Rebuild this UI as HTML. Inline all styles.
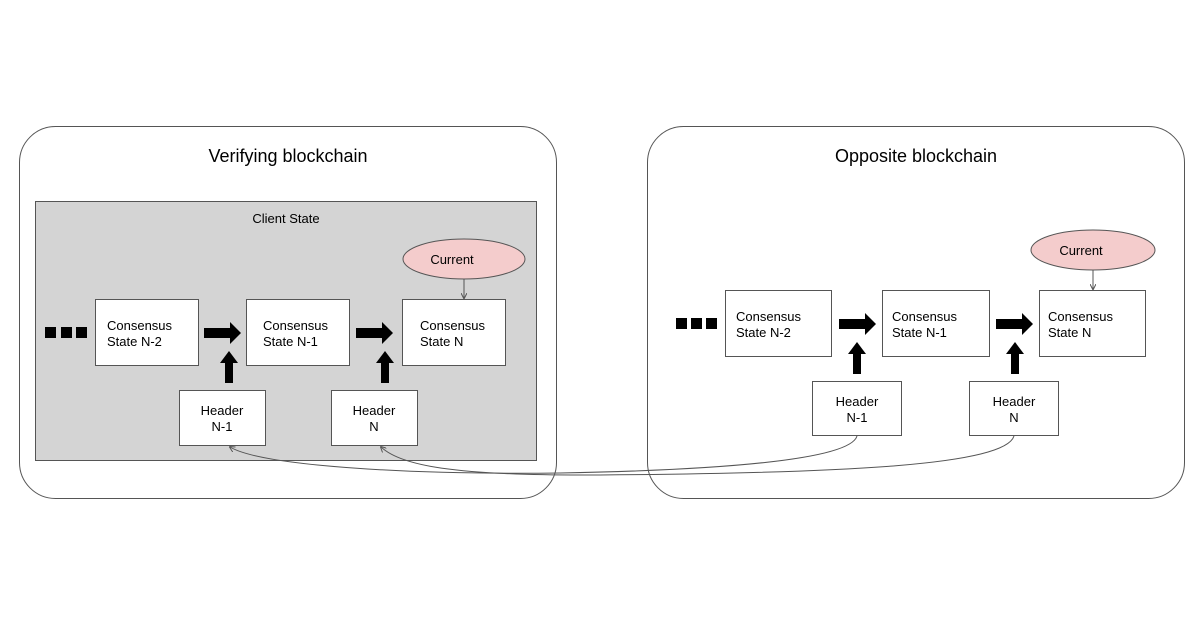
<!DOCTYPE html>
<html><head><style>body{margin:0;background:#fff}svg{display:block}text{font-family:"Liberation Sans",Arial,sans-serif;fill:#000}</style></head><body>
<svg width="1200" height="630" viewBox="0 0 1200 630">
<defs>
<g id="ra"><path d="M0,-5 H26 V-11 L37,0 L26,11 V5 H0 Z" fill="#000"/></g>
<g id="ua"><path d="M-4,0 V-20 H-9 L0,-32 L9,-20 H4 V0 Z" fill="#000"/></g>
<marker id="m" markerWidth="6" markerHeight="6" refX="5" refY="3" orient="auto"><path d="M0,0 L6,3 L0,6" fill="none" stroke="#555" stroke-width="1"/></marker>
</defs>
<rect x="19.5" y="126.5" width="537" height="372" rx="36" fill="#fff" stroke="#555"/>
<rect x="647.5" y="126.5" width="537" height="372" rx="36" fill="#fff" stroke="#555"/>
<text x="288" y="162" font-size="18" text-anchor="middle">Verifying blockchain</text>
<text x="916" y="162" font-size="18" text-anchor="middle">Opposite blockchain</text>
<rect x="35.5" y="201.5" width="501" height="259" fill="#d4d4d4" stroke="#555"/>
<text x="286" y="223" font-size="13" text-anchor="middle">Client State</text>
<g font-size="13">
<!-- left -->
<rect x="45" y="327" width="11" height="11"/><rect x="61" y="327" width="11" height="11"/><rect x="76" y="327" width="11" height="11"/>
<rect x="95.5" y="299.5" width="103" height="66" fill="#fff" stroke="#555"/>
<text x="107" y="330">Consensus</text><text x="107" y="346">State N-2</text>
<rect x="246.5" y="299.5" width="103" height="66" fill="#fff" stroke="#555"/>
<text x="263" y="330">Consensus</text><text x="263" y="346">State N-1</text>
<rect x="402.5" y="299.5" width="103" height="66" fill="#fff" stroke="#555"/>
<text x="420" y="330">Consensus</text><text x="420" y="346">State N</text>
<use href="#ra" x="204" y="333"/><use href="#ra" x="356" y="333"/>
<use href="#ua" x="229" y="383"/><use href="#ua" x="385" y="383"/>
<rect x="179.5" y="390.5" width="86" height="55" fill="#fff" stroke="#555"/>
<text x="222" y="415" text-anchor="middle">Header</text><text x="222" y="431" text-anchor="middle">N-1</text>
<rect x="331.5" y="390.5" width="86" height="55" fill="#fff" stroke="#555"/>
<text x="374" y="415" text-anchor="middle">Header</text><text x="374" y="431" text-anchor="middle">N</text>
<ellipse cx="464" cy="259" rx="61" ry="20" fill="#f4cccc" stroke="#555"/>
<text x="452" y="264" text-anchor="middle">Current</text>
<line x1="464" y1="279" x2="464" y2="298" stroke="#555" marker-end="url(#m)"/>
<!-- right -->
<rect x="676" y="318" width="11" height="11"/><rect x="691" y="318" width="11" height="11"/><rect x="706" y="318" width="11" height="11"/>
<rect x="725.5" y="290.5" width="106" height="66" fill="#fff" stroke="#555"/>
<text x="736" y="321">Consensus</text><text x="736" y="337">State N-2</text>
<rect x="882.5" y="290.5" width="107" height="66" fill="#fff" stroke="#555"/>
<text x="892" y="321">Consensus</text><text x="892" y="337">State N-1</text>
<rect x="1039.5" y="290.5" width="106" height="66" fill="#fff" stroke="#555"/>
<text x="1048" y="321">Consensus</text><text x="1048" y="337">State N</text>
<use href="#ra" x="839" y="324"/><use href="#ra" x="996" y="324"/>
<use href="#ua" x="857" y="374"/><use href="#ua" x="1015" y="374"/>
<rect x="812.5" y="381.5" width="89" height="54" fill="#fff" stroke="#555"/>
<text x="857" y="406" text-anchor="middle">Header</text><text x="857" y="422" text-anchor="middle">N-1</text>
<rect x="969.5" y="381.5" width="89" height="54" fill="#fff" stroke="#555"/>
<text x="1014" y="406" text-anchor="middle">Header</text><text x="1014" y="422" text-anchor="middle">N</text>
<ellipse cx="1093" cy="250" rx="62" ry="20" fill="#f4cccc" stroke="#555"/>
<text x="1081" y="255" text-anchor="middle">Current</text>
<line x1="1093" y1="270" x2="1093" y2="289" stroke="#555" marker-end="url(#m)"/>
</g>
<path d="M857,436 C850,460 720,470 560,473 C400,475 260,465 230,447" fill="none" stroke="#555" marker-end="url(#m)"/>
<path d="M1014,436 C1005,465 850,473 600,475 C450,476 400,465 381,447" fill="none" stroke="#555" marker-end="url(#m)"/>
</svg>
</body></html>
